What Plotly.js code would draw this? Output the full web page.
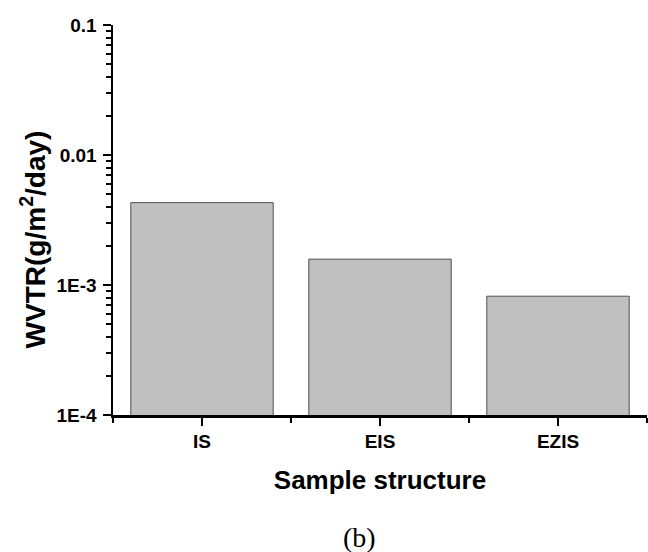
<!DOCTYPE html>
<html>
<head>
<meta charset="utf-8">
<script src="https://cdn.plot.ly/plotly-3.0.1.min.js"></script>
<style>html,body{margin:0;padding:0;background:#fff;}</style>
</head>
<body>
<div id="chart" style="width:648px;height:552px;"></div>
<script>
const categories = ["IS", "EIS", "EZIS"];
const wvtr = [0.0043, 0.00158, 0.00082];
const yTickVals = [0.0001, 0.001, 0.01, 0.1];
const yTickText = ["1E-4", "1E-3", "0.01", "0.1"];

const xIdx = categories.map((c, i) => i);
const FONT = "Liberation Sans, Arial, sans-serif";

const trace = {
  type: "bar",
  x: xIdx,
  y: wvtr,
  width: 0.8,
  marker: { color: "#c0c0c0", line: { color: "#505050", width: 1 } },
  hoverinfo: "skip"
};

const layout = {
  width: 648, height: 552,
  margin: { l: 113, r: 1, t: 25, b: 137 },
  paper_bgcolor: "#fff", plot_bgcolor: "#fff",
  showlegend: false,
  bargap: 0.2,
  font: { family: FONT, color: "#000" },
  xaxis: {
    range: [-0.5, 2.5],
    tickvals: xIdx,
    ticktext: categories,
    ticks: "outside", ticklen: 8, tickwidth: 2.5, tickcolor: "#000",
    minor: { tick0: 0.5, dtick: 1, ticks: "outside", ticklen: 5, tickwidth: 2.5, tickcolor: "#000", showgrid: false },
    showline: true, linecolor: "#000", linewidth: 2.5,
    showgrid: false, zeroline: false,
    tickfont: { family: FONT, size: 19, color: "#000", weight: "bold" },
    title: { text: "<b>Sample structure</b>", font: { family: FONT, size: 26, color: "#000" }, standoff: 20 }
  },
  yaxis: {
    type: "log",
    range: [-4, -1],
    tickvals: yTickVals,
    ticktext: yTickText,
    ticks: "outside", ticklen: 8, tickwidth: 2.5, tickcolor: "#000",
    ticklabelstandoff: 2,
    minor: { dtick: "D1", ticks: "outside", ticklen: 5, tickwidth: 2, tickcolor: "#000", showgrid: false },
    showline: true, linecolor: "#000", linewidth: 2.5,
    showgrid: false, zeroline: false,
    tickfont: { family: FONT, size: 19, color: "#000", weight: "bold" }
  },
  annotations: [{
    xref: "paper", yref: "paper", x: -0.15, y: 0.45, xanchor: "center", yanchor: "middle",
    textangle: -90,
    text: "<b>WVTR(g/m<sup>2</sup>/day)</b>", showarrow: false,
    font: { family: FONT, size: 28, color: "#000" }
  }, {
    xref: "paper", yref: "paper", x: 0.4625, y: -0.315, xanchor: "center", yanchor: "middle",
    text: "(b)", showarrow: false,
    font: { family: "Liberation Serif, Times New Roman, serif", size: 28, color: "#000" }
  }]
};

Plotly.newPlot("chart", [trace], layout, { displayModeBar: false, staticPlot: true });
</script>
</body>
</html>
